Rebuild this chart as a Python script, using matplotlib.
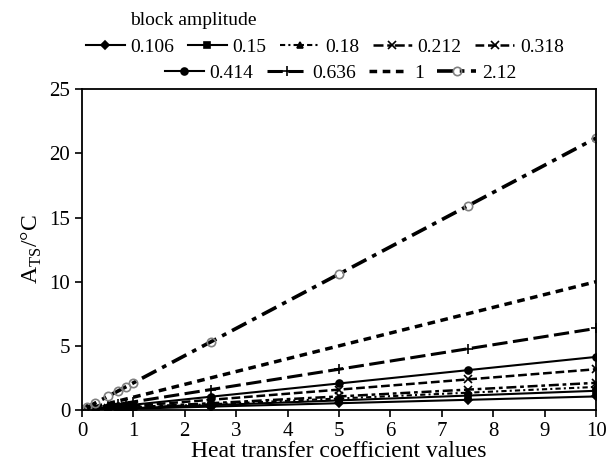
import matplotlib.pyplot as plt

plt.rcParams["font.family"] = ["Liberation Serif", "DejaVu Serif"]

# heat transfer coefficient values (x) and A_TS for each block amplitude
h = [0, 0.1, 0.25, 0.5, 0.7, 0.85, 1, 2.5, 5, 7.5, 10]
amp_labels = ["0.106", "0.15", "0.18", "0.212", "0.318",
              "0.414", "0.636", "1", "2.12"]
a_0106 = [0, 0.011, 0.027, 0.053, 0.074, 0.090, 0.106, 0.265, 0.53, 0.795, 1.06]
a_015 = [0, 0.015, 0.038, 0.075, 0.105, 0.128, 0.15, 0.375, 0.75, 1.125, 1.5]
a_018 = [0, 0.018, 0.045, 0.09, 0.126, 0.153, 0.18, 0.45, 0.9, 1.35, 1.8]
a_0212 = [0, 0.021, 0.053, 0.106, 0.148, 0.18, 0.212, 0.53, 1.06, 1.59, 2.12]
a_0318 = [0, 0.032, 0.08, 0.159, 0.223, 0.27, 0.318, 0.795, 1.59, 2.385, 3.18]
a_0414 = [0, 0.041, 0.104, 0.207, 0.29, 0.352, 0.414, 1.035, 2.07, 3.105, 4.14]
a_0636 = [0, 0.064, 0.159, 0.318, 0.445, 0.541, 0.636, 1.59, 3.18, 4.77, 6.36]
a_1 = [0, 0.1, 0.25, 0.5, 0.7, 0.85, 1, 2.5, 5, 7.5, 10]
a_212 = [0, 0.21, 0.53, 1.06, 1.48, 1.80, 2.12, 5.3, 10.6, 15.9, 21.2]
series = [a_0106, a_015, a_018, a_0212, a_0318, a_0414, a_0636, a_1, a_212]

styles = [
    dict(lw=1.5, dashes=(), marker="D", ms=4, mfc="k"),
    dict(lw=1.5, dashes=(), marker="s", ms=4, mfc="k"),
    dict(lw=1.5, dashes=(2.5, 1.5, 1, 1.5), marker="^", ms=4, mfc="k"),
    dict(lw=1.8, dashes=(4, 1.5, 1.5, 1.5), marker="x", ms=6, mfc="k"),
    dict(lw=1.8, dashes=(3.5, 1.5), marker="x", ms=6, mfc="k"),
    dict(lw=1.5, dashes=(), marker="o", ms=5, mfc="k"),
    dict(lw=2.2, dashes=(5, 1.8), marker="+", ms=7, mfc="k"),
    dict(lw=2.5, dashes=(2.2, 1.6), marker="None", ms=0, mfc="k"),
    dict(lw=2.6, dashes=(4.5, 1.8, 1.3, 1.8), marker="o", ms=6, mfc="none"),
]

fig = plt.figure(figsize=(6.15, 4.67), dpi=100)
ax = fig.add_axes([0.1333, 0.122, 0.836, 0.687])

handles = []
for y, lab, st in zip(series, amp_labels, styles):
    mec = "gray" if lab == "2.12" else "k"
    ln, = ax.plot(h, y, color="k", lw=st["lw"], marker=st["marker"],
                  ms=st["ms"], mfc=st["mfc"], mec=mec, mew=1.2, label=lab)
    if st["dashes"]:
        ln.set_dashes(st["dashes"])
    handles.append(ln)

ax.set_xlim(0, 10)
ax.set_ylim(0, 25)
ax.set_xticks(range(0, 11))
ax.set_yticks([0, 5, 10, 15, 20, 25])
ax.tick_params(labelsize=15, direction="out", length=5, width=1.2)
for s in ax.spines.values():
    s.set_linewidth(1.3)
ax.set_xlabel("Heat transfer coefficient values", fontsize=17, labelpad=0)
ax.set_ylabel(r"A$_{\mathregular{TS}}$/°C", fontsize=17, labelpad=4)

leg_kw = dict(frameon=False, fontsize=14, handlelength=2.0,
              handletextpad=0.3, columnspacing=0.7, borderaxespad=0,
              borderpad=0)
fig.legend(handles[:5], amp_labels[:5], ncol=5, loc="center",
           bbox_to_anchor=(0.528, 0.899), **leg_kw)
fig.legend(handles[5:], amp_labels[5:], ncol=4, loc="center",
           bbox_to_anchor=(0.554, 0.844), **leg_kw)
fig.text(0.211, 0.957, "block amplitude", fontsize=14, va="center")

fig.savefig("out.png", dpi=100)
